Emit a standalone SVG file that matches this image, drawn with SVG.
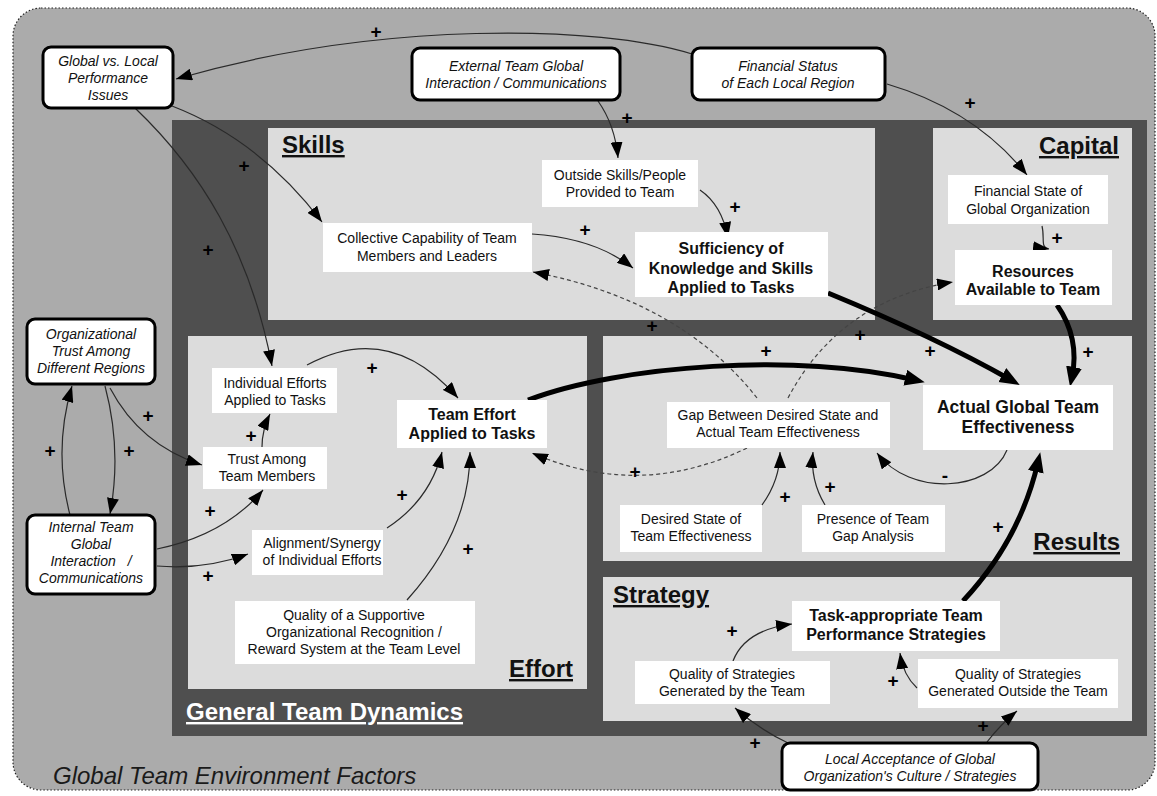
<svg xmlns="http://www.w3.org/2000/svg" width="1157" height="796" viewBox="0 0 1157 796">
<style>
  .t{font-family:"Liberation Sans",Arial,sans-serif;font-size:14px;fill:#111;text-anchor:middle}
  .i{font-style:italic}
  .b{font-weight:bold;font-size:16px}
  .bb{font-weight:bold;font-size:17.5px}
  .sec{font-family:"Liberation Sans",Arial,sans-serif;font-weight:bold;font-size:24px;fill:#111;text-decoration:underline}
  .ext{fill:#fff;stroke:#000;stroke-width:3}
  .nd{fill:#fff}
  .c{fill:none;stroke:#2a2a2a;stroke-width:1.2;marker-end:url(#a)}
  .d{stroke:#444;stroke-dasharray:4 3}
  .k{fill:none;stroke:#000;stroke-width:5;marker-end:url(#ak)}
  .p{font-family:"Liberation Sans",Arial,sans-serif;font-weight:bold;font-size:19px;fill:#000;text-anchor:middle}
</style>
<defs>
  <marker id="a" markerUnits="userSpaceOnUse" markerWidth="16" markerHeight="12" refX="16" refY="6" orient="auto">
    <path d="M0,0 L16,6 L0,12 z" fill="#000"/>
  </marker>
  <marker id="ak" markerUnits="userSpaceOnUse" markerWidth="22" markerHeight="18" refX="10" refY="8" orient="auto">
    <path d="M0,0 L20,8 L0,16 z" fill="#000"/>
  </marker>
</defs>

<!-- environment background -->
<rect x="0" y="0" width="1157" height="796" fill="#fff"/>
<rect x="13" y="8" width="1142" height="782" rx="28" fill="#ababab" stroke="#222" stroke-width="1.2" stroke-dasharray="1.5 2"/>

<!-- general team dynamics frame and sub-panels -->
<g id="panels">
  <rect x="172" y="120" width="975" height="616" fill="#4f4f4f"/>
  <rect x="268" y="128" width="607" height="192" fill="#dcdcdc"/>
  <rect x="933" y="128" width="199" height="192" fill="#dcdcdc"/>
  <rect x="188" y="336" width="399" height="353" fill="#dcdcdc"/>
  <rect x="603" y="336" width="529" height="225" fill="#dcdcdc"/>
  <rect x="603" y="577" width="529" height="144" fill="#dcdcdc"/>
  <text class="sec" x="282" y="153">Skills</text>
  <text class="sec" x="1119" y="154" text-anchor="end">Capital</text>
  <text class="sec" x="573" y="677" text-anchor="end">Effort</text>
  <text class="sec" x="1120" y="550" text-anchor="end">Results</text>
  <text class="sec" x="613" y="603">Strategy</text>
  <text class="sec" x="186" y="720" style="fill:#fff">General Team Dynamics</text>
  <text x="53" y="784" font-family="Liberation Sans, Arial, sans-serif" font-style="italic" font-size="24" fill="#1a1a1a">Global Team Environment Factors</text>
</g>

<!-- connectors -->
<g id="connectors">
  <path class="c" d="M692 54 C600 25, 380 20, 176 79"/>
  <path class="c" d="M598 101 Q615 125 618 158"/>
  <path class="c" d="M700 190 Q722 205 728 238"/>
  <path class="c" d="M532 234 Q595 238 633 268"/>
  <path class="c d" d="M757 398 Q680 300 533 272"/>
  <path class="c d" d="M788 398 Q840 300 953 282"/>
  <path class="c" d="M887 84 Q975 110 1027 175"/>
  <path class="c" d="M1042 226 C1045 238, 1040 248, 1049 249"/>
  <path class="k" d="M1057 305 Q1080 338 1072 377"/>
  <path class="k" d="M828 293 Q935 337 1011 380"/>
  <path class="k" d="M528 400 C620 365, 800 352, 915 380"/>
  <path class="k" d="M963 601 Q1020 540 1038 462"/>
  <path class="c" d="M1007 450 C990 492, 910 497, 877 453"/>
  <path class="c" d="M762 505 Q780 480 780 452"/>
  <path class="c" d="M825 505 Q810 480 813 452"/>
  <path class="c d" d="M747 448 Q640 500 532 453"/>
  <path class="c" d="M135 108 C200 170, 250 250, 272 366"/>
  <path class="c" d="M172 106 Q260 140 322 222"/>
  <path class="c" d="M105 386 Q122 450 110 514"/>
  <path class="c" d="M70 515 Q53 450 72 386"/>
  <path class="c" d="M110 388 Q140 445 202 465"/>
  <path class="c" d="M262 447 Q262 430 270 414"/>
  <path class="c" d="M157 549 Q225 535 263 490"/>
  <path class="c" d="M157 566 Q205 570 248 554"/>
  <path class="c" d="M307 365 Q390 320 458 398"/>
  <path class="c" d="M387 528 Q430 500 442 452"/>
  <path class="c" d="M407 600 Q470 530 470 452"/>
  <path class="c" d="M790 744 Q760 730 735 708"/>
  <path class="c" d="M987 742 Q1000 725 1017 711"/>
  <path class="c" d="M733 661 Q745 630 792 624"/>
  <path class="c" d="M917 688 Q903 675 900 653"/>
  <!-- polarity marks -->
  <text class="p" x="376" y="38">+</text>
  <text class="p" x="244" y="172">+</text>
  <text class="p" x="208" y="256">+</text>
  <text class="p" x="627" y="124">+</text>
  <text class="p" x="735" y="213">+</text>
  <text class="p" x="585" y="236">+</text>
  <text class="p" x="652" y="332">+</text>
  <text class="p" x="860" y="341">+</text>
  <text class="p" x="970" y="109">+</text>
  <text class="p" x="1057" y="244">+</text>
  <text class="p" x="1088" y="358">+</text>
  <text class="p" x="930" y="357">+</text>
  <text class="p" x="766" y="357">+</text>
  <text class="p" x="998" y="533">+</text>
  <text class="p" x="945" y="482">-</text>
  <text class="p" x="785" y="503">+</text>
  <text class="p" x="830" y="493">+</text>
  <text class="p" x="635" y="478">+</text>
  <text class="p" x="50" y="457">+</text>
  <text class="p" x="129" y="457">+</text>
  <text class="p" x="148" y="422">+</text>
  <text class="p" x="251" y="442">+</text>
  <text class="p" x="210" y="517">+</text>
  <text class="p" x="208" y="582">+</text>
  <text class="p" x="372" y="374">+</text>
  <text class="p" x="402" y="501">+</text>
  <text class="p" x="468" y="555">+</text>
  <text class="p" x="732" y="637">+</text>
  <text class="p" x="893" y="687">+</text>
  <text class="p" x="755" y="749">+</text>
  <text class="p" x="983" y="732">+</text>
</g>

<!-- environment factors -->
<g id="global-local">
  <rect class="ext" x="43" y="47" width="130" height="61" rx="8"/>
  <text class="t i" x="108" y="66">Global vs. Local</text>
  <text class="t i" x="108" y="83">Performance</text>
  <text class="t i" x="108" y="100">Issues</text>
</g>
<g id="external-comm">
  <rect class="ext" x="412" y="48" width="208" height="52" rx="8"/>
  <text class="t i" x="516" y="71">External Team Global</text>
  <text class="t i" x="516" y="88">Interaction / Communications</text>
</g>
<g id="financial-status">
  <rect class="ext" x="692" y="48" width="193" height="52" rx="8"/>
  <text class="t i" x="788" y="71">Financial Status</text>
  <text class="t i" x="788" y="88">of Each Local Region</text>
</g>
<g id="org-trust">
  <rect class="ext" x="27" y="319" width="128" height="65" rx="8"/>
  <text class="t i" x="91" y="339">Organizational</text>
  <text class="t i" x="91" y="356">Trust Among</text>
  <text class="t i" x="91" y="373">Different Regions</text>
</g>
<g id="internal-comm">
  <rect class="ext" x="27" y="515" width="128" height="79" rx="8"/>
  <text class="t i" x="91" y="532">Internal Team</text>
  <text class="t i" x="91" y="549">Global</text>
  <text class="t i" x="91" y="566" word-spacing="8">Interaction /</text>
  <text class="t i" x="91" y="583">Communications</text>
</g>
<g id="local-acceptance">
  <rect class="ext" x="782" y="743" width="256" height="47" rx="8"/>
  <text class="t i" x="910" y="764">Local Acceptance of Global</text>
  <text class="t i" x="910" y="781">Organization's Culture / Strategies</text>
</g>

<!-- skills -->
<g id="outside-skills">
  <rect class="nd" x="542" y="160" width="156" height="47"/>
  <text class="t" x="620" y="180">Outside Skills/People</text>
  <text class="t" x="620" y="197">Provided to Team</text>
</g>
<g id="collective-capability">
  <rect class="nd" x="323" y="223" width="209" height="49"/>
  <text class="t" x="427" y="243">Collective Capability of Team</text>
  <text class="t" x="427" y="261">Members and Leaders</text>
</g>
<g id="sufficiency">
  <rect class="nd" x="635" y="232" width="193" height="65"/>
  <text class="t b" x="731" y="254">Sufficiency of</text>
  <text class="t b" x="731" y="274">Knowledge and Skills</text>
  <text class="t b" x="731" y="293">Applied to Tasks</text>
</g>

<!-- capital -->
<g id="financial-state">
  <rect class="nd" x="948" y="175" width="160" height="49"/>
  <text class="t" x="1028" y="196">Financial State of</text>
  <text class="t" x="1028" y="214">Global Organization</text>
</g>
<g id="resources">
  <rect class="nd" x="955" y="250" width="157" height="55"/>
  <text class="t b" x="1033" y="277">Resources</text>
  <text class="t b" x="1033" y="295">Available to Team</text>
</g>

<!-- effort -->
<g id="individual-efforts">
  <rect class="nd" x="212" y="368" width="125" height="45"/>
  <text class="t" x="275" y="388">Individual Efforts</text>
  <text class="t" x="275" y="405">Applied to Tasks</text>
</g>
<g id="trust-among">
  <rect class="nd" x="203" y="447" width="124" height="42"/>
  <text class="t" x="267" y="464">Trust Among</text>
  <text class="t" x="267" y="481">Team Members</text>
</g>
<g id="team-effort">
  <rect class="nd" x="397" y="400" width="150" height="48"/>
  <text class="t b" x="472" y="420">Team Effort</text>
  <text class="t b" x="472" y="439">Applied to Tasks</text>
</g>
<g id="alignment">
  <rect class="nd" x="252" y="530" width="131" height="45"/>
  <text class="t" x="322" y="548">Alignment/Synergy</text>
  <text class="t" x="322" y="565">of Individual Efforts</text>
</g>
<g id="reward-system">
  <rect class="nd" x="235" y="601" width="240" height="63"/>
  <text class="t" x="354" y="620">Quality of a Supportive</text>
  <text class="t" x="354" y="637">Organizational Recognition /</text>
  <text class="t" x="354" y="654">Reward System at the Team Level</text>
</g>

<!-- results -->
<g id="gap">
  <rect class="nd" x="667" y="402" width="223" height="46"/>
  <text class="t" x="778" y="420">Gap Between Desired State and</text>
  <text class="t" x="778" y="437">Actual Team Effectiveness</text>
</g>
<g id="actual-effectiveness">
  <rect class="nd" x="923" y="385" width="190" height="65"/>
  <text class="t bb" x="1018" y="413">Actual Global Team</text>
  <text class="t bb" x="1018" y="433">Effectiveness</text>
</g>
<g id="desired-state">
  <rect class="nd" x="620" y="505" width="142" height="47"/>
  <text class="t" x="691" y="524">Desired State of</text>
  <text class="t" x="691" y="541">Team Effectiveness</text>
</g>
<g id="gap-analysis">
  <rect class="nd" x="802" y="505" width="143" height="47"/>
  <text class="t" x="873" y="524">Presence of Team</text>
  <text class="t" x="873" y="541">Gap Analysis</text>
</g>

<!-- strategy -->
<g id="task-strategies">
  <rect class="nd" x="792" y="601" width="208" height="50"/>
  <text class="t b" x="896" y="621">Task-appropriate Team</text>
  <text class="t b" x="896" y="640">Performance Strategies</text>
</g>
<g id="strategies-team">
  <rect class="nd" x="635" y="661" width="195" height="43"/>
  <text class="t" x="732" y="679">Quality of Strategies</text>
  <text class="t" x="732" y="696">Generated by the Team</text>
</g>
<g id="strategies-outside">
  <rect class="nd" x="918" y="659" width="200" height="49"/>
  <text class="t" x="1018" y="679">Quality of Strategies</text>
  <text class="t" x="1018" y="696">Generated Outside the Team</text>
</g>
</svg>
